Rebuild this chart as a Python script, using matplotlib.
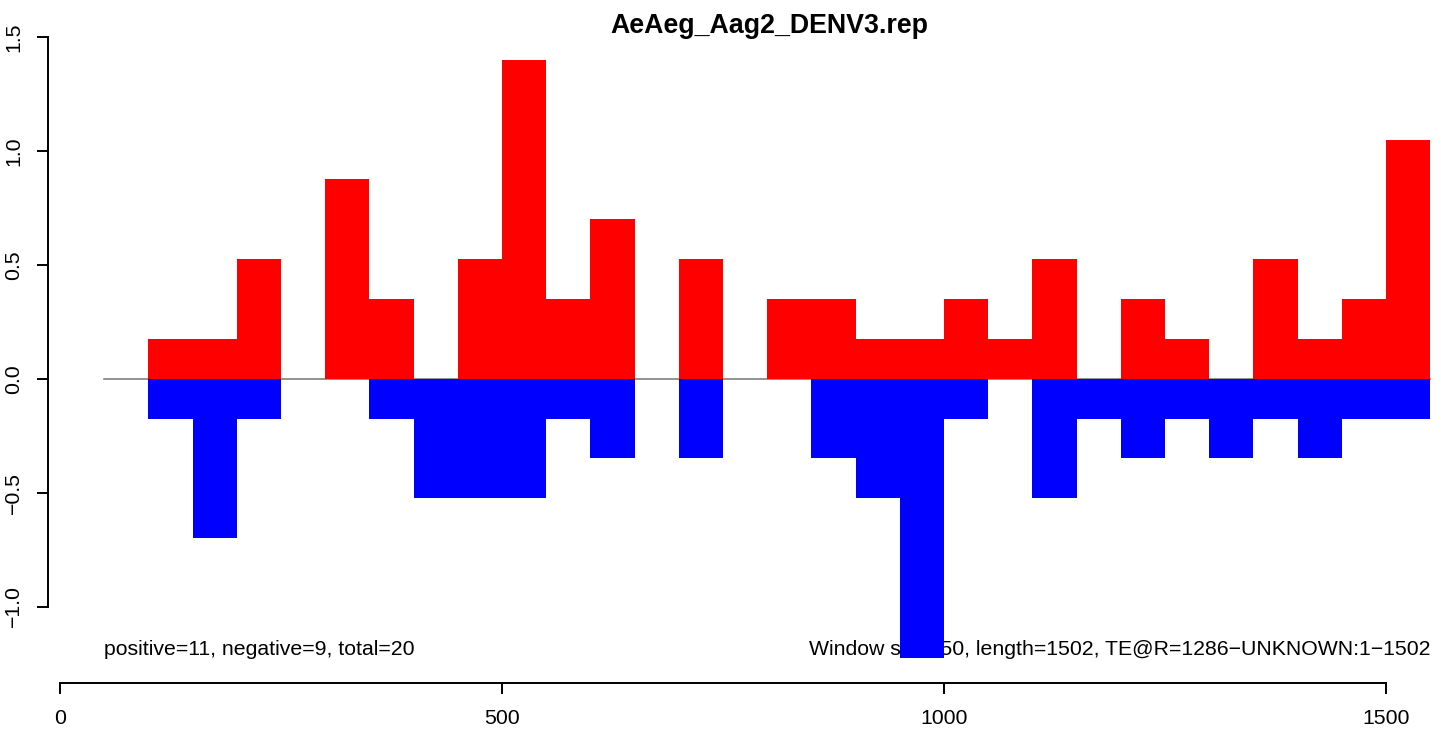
import matplotlib
matplotlib.use("Agg")
import matplotlib.pyplot as plt

# window start positions (window size 50)
starts = [100, 150, 200, 250, 300, 350, 400, 450, 500, 550, 600, 650, 700, 750,
          800, 850, 900, 950, 1000, 1050, 1100, 1150, 1200, 1250, 1300, 1350,
          1400, 1450, 1500]
pos = [0.175, 0.175, 0.525, 0, 0.875, 0.35, 0, 0.525, 1.4, 0.35, 0.7, 0, 0.525, 0,
       0.35, 0.35, 0.175, 0.175, 0.35, 0.175, 0.525, 0, 0.35, 0.175, 0, 0.525,
       0.175, 0.35, 1.05]
neg = [-0.175, -0.7, -0.175, 0, 0, -0.175, -0.525, -0.525, -0.525, -0.175, -0.35, 0,
       -0.35, 0, 0, -0.35, -0.525, -1.225, -0.175, 0, -0.525, -0.175, -0.35, -0.175,
       -0.35, -0.175, -0.35, -0.175, -0.175]
xticks = [0, 500, 1000, 1500]
yticks = [-1.0, -0.5, 0.0, 0.5, 1.0, 1.5]
title = "AeAeg_Aag2_DENV3.rep"
left_note = "positive=11, negative=9, total=20"
right_note = "Window size=50, length=1502, TE@R=1286\u2212UNKNOWN:1\u22121502"

plt.rcParams['font.family'] = ['Liberation Sans', 'DejaVu Sans']

W, H = 1441, 732
fig = plt.figure(figsize=(W / 100, H / 100), dpi=100)
# axes placed in pixel terms: left 48, right 1434, top 37, bottom 683
ax = fig.add_axes([48 / W, (H - 683) / H, (1434 - 48) / W, (683 - 37) / H])
ax.set_xlim((48 - 60) / 0.884, (1434 - 60) / 0.884)
ax.set_ylim((379 - 683) / 227.6, 1.5)

ax.plot([50, 1550], [0, 0], color="#808080", linewidth=1.2, zorder=1)
ax.text(50, -1.19, left_note, fontsize=15.3, ha="left", va="center", zorder=1)
ax.text(1550, -1.19, right_note, fontsize=15.3, ha="right", va="center", zorder=1)

ax.bar(starts, pos, width=50, align="edge", color="#FF0000", linewidth=0,
       antialiased=False, zorder=2)
ax.bar(starts, neg, width=50, align="edge", color="#0000FF", linewidth=0,
       antialiased=False, zorder=3)

for s in ["top", "right"]:
    ax.spines[s].set_visible(False)
ax.spines["left"].set_bounds(-1.0, 1.5)
ax.spines["bottom"].set_bounds(0, 1500)
ax.spines["left"].set_linewidth(1.4)
ax.spines["bottom"].set_linewidth(1.4)

ax.set_xticks(xticks)
ax.set_xticklabels([str(t) for t in xticks])
ax.set_yticks(yticks)
ax.set_yticklabels(["%.1f" % t if t >= 0 else "\u2212%.1f" % -t for t in yticks],
                   rotation=90, va="center")
ax.tick_params(axis="both", direction="out", length=8, width=1.4, labelsize=15.3)
ax.tick_params(axis="y", pad=10)
ax.tick_params(axis="x", pad=10.5)

fig.text(769 / W, 1 - 26 / H, title, fontsize=19.3, fontweight="bold",
         ha="center", va="center")

fig.savefig("out.png", dpi=100)
